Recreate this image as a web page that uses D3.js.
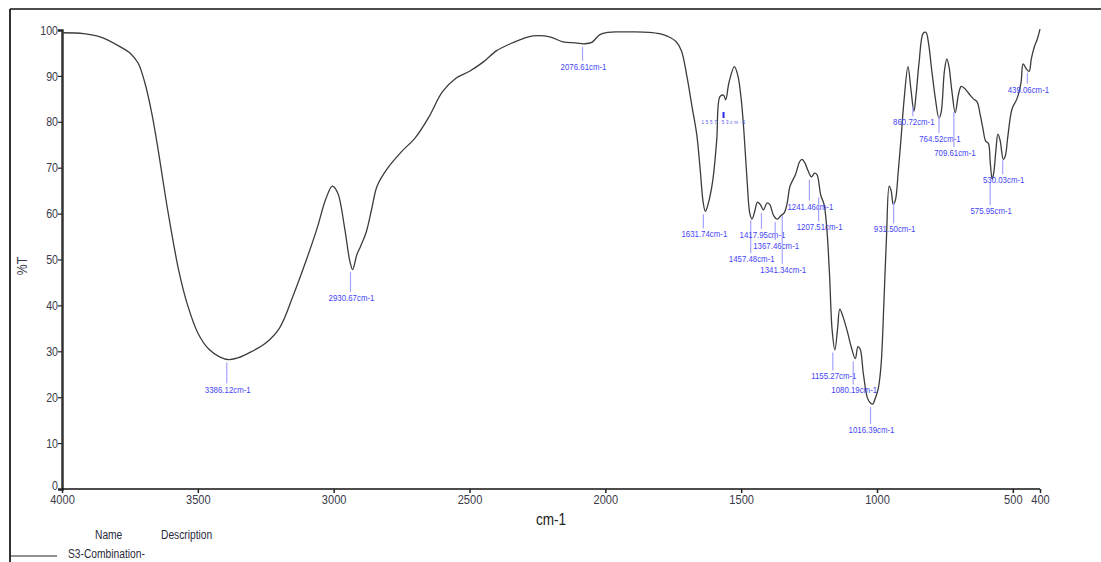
<!DOCTYPE html>
<html>
<head>
<meta charset="utf-8">
<script src="https://cdn.jsdelivr.net/npm/d3@7"></script>
<style>
  html, body { margin: 0; padding: 0; background: #fff; }
  svg { display: block; }
</style>
</head>
<body>
<svg id="chart" width="1101" height="562"></svg>
<script>
// ---------------- data ----------------
const wavenumbers = [
  4000, 3920, 3860, 3790, 3750, 3720, 3695, 3670, 3645, 3620, 3600, 3570, 3540, 3500, 3460, 3420, 3386, 3350, 3300, 3250,
  3200, 3150, 3100, 3060, 3030, 3005, 2985, 2960, 2940, 2930, 2915, 2900, 2880, 2860, 2840, 2800, 2750, 2700, 2650, 2600,
  2550, 2500, 2450, 2400, 2350, 2300, 2266, 2204, 2156, 2110, 2076, 2050, 2020, 1990, 1950, 1900, 1840, 1800, 1770, 1740,
  1720, 1700, 1680, 1663, 1650, 1640, 1632, 1622, 1605, 1590, 1578, 1565, 1557, 1545, 1525, 1512, 1500, 1490, 1478, 1468,
  1460, 1450, 1440, 1430, 1418, 1405, 1395, 1380, 1367, 1355, 1341, 1330, 1320, 1300, 1285, 1276, 1265, 1255, 1241, 1230,
  1221, 1207, 1195, 1185, 1175, 1165, 1155, 1145, 1137, 1125, 1110, 1095, 1080, 1070, 1062, 1050, 1035, 1025, 1016, 1005,
  995, 985, 975, 965, 955, 948, 940, 932, 922, 912, 900, 886, 875, 864, 856, 845, 830, 820, 810, 800,
  785, 772, 764, 752, 743, 735, 725, 712, 700, 690, 678, 660, 645, 632, 620, 610, 600, 590, 583, 576,
  570, 562, 555, 547, 535, 528, 518, 503, 485, 470, 462, 450, 440, 432, 420, 410, 400
];
const transmittance = [
  99.4, 99.2, 98.5, 96.5, 95.0, 92.8, 88.5, 82.0, 73.5, 64.0, 57.0, 47.5, 40.5, 34.0, 30.5, 28.8, 28.2, 28.6, 30.0, 31.8,
  35.0, 42.0, 50.0, 57.0, 63.0, 66.0, 64.5, 57.0, 49.5, 47.8, 51.0, 53.0, 56.0, 61.0, 66.0, 70.0, 73.5, 76.5, 81.0, 86.5,
  89.5, 91.0, 93.0, 95.5, 97.0, 98.2, 98.7, 98.5, 97.4, 97.2, 97.0, 97.3, 99.0, 99.5, 99.6, 99.6, 99.5, 99.2, 98.6, 97.5,
  95.5, 90.0, 83.0, 77.0, 69.0, 62.5, 60.5, 62.0, 67.0, 76.0, 85.5, 85.8, 84.8, 88.5, 92.0, 90.0, 85.0, 78.0, 67.0, 60.0,
  58.8, 60.5, 62.5, 62.0, 60.8, 62.3, 62.0, 59.5, 58.8, 59.5, 60.2, 62.5, 66.0, 68.5, 71.3, 71.8, 71.0, 69.5, 68.0, 68.8,
  68.5, 64.0, 62.0, 57.0, 47.0, 34.5, 30.3, 35.0, 39.2, 37.5, 34.5, 31.0, 28.4, 31.0, 30.5, 25.0, 19.8, 18.8, 18.5, 20.0,
  22.0, 27.0, 40.0, 55.0, 66.0, 65.0, 62.0, 63.0, 69.0, 76.0, 85.0, 92.0, 87.0, 82.3, 86.0, 93.0, 99.3, 99.5, 97.0, 92.0,
  85.0, 80.8, 82.0, 91.0, 93.7, 92.0, 87.0, 82.0, 86.0, 87.7, 87.3, 86.0, 85.0, 84.4, 81.5, 78.5, 75.8, 75.3, 71.0, 67.5,
  69.0, 74.0, 77.3, 76.0, 71.8, 72.5, 77.0, 82.8, 85.0, 88.5, 92.6, 91.5, 91.0, 93.7, 96.5, 98.0, 100.2
];

const peakWavenumbers = [3386.12, 2930.67, 2076.61, 1631.74, 1457.48, 1417.95, 1367.46, 1341.34, 1241.46, 1207.51,
                         1155.27, 1080.19, 1016.39, 931.50, 860.72, 764.52, 709.61, 575.95, 530.03, 439.06];
const peakLabels = ["3386.12cm-1", "2930.67cm-1", "2076.61cm-1", "1631.74cm-1", "1457.48cm-1", "1417.95cm-1",
                    "1367.46cm-1", "1341.34cm-1", "1241.46cm-1", "1207.51cm-1", "1155.27cm-1", "1080.19cm-1",
                    "1016.39cm-1", "931.50cm-1", "860.72cm-1", "764.52cm-1", "709.61cm-1", "575.95cm-1",
                    "530.03cm-1", "439.06cm-1"];
const squashedPeak = 1557.53;
const squashedLabel = "1557.53cm-1";

const xTickValues = [4000, 3500, 3000, 2500, 2000, 1500, 1000, 500, 400];
const yTickValues = [0, 10, 20, 30, 40, 50, 60, 70, 80, 90, 100];

const xTitle = "cm-1";
const yTitle = "%T";
const legendHeaders = ["Name", "Description"];
const legendName = "S3-Combination-";

// ---------------- layout (pixels) ----------------
const labelDrop = [33, 32, 26, 26, 45, 28, 30, 60, 33, 36, 30, 35, 29, 34, 21, 29, 47, 35, 26, 23];

const svg = d3.select("#chart");
const plot = { left: 62, right: 1040, top: 30, bottom: 489 };
const FONT = "'Liberation Sans', Arial, sans-serif";
const NARROW = 0.82;

const x = d3.scaleLinear().domain([4000, 400]).range([plot.left, plot.right]);
const y = d3.scaleLinear().domain([0, 100]).range([plot.bottom, plot.top]);

function narrowText(parent, px, py, str, size, anchor, fill, sx) {
  const g = parent.append("g").attr("transform", `translate(${px},${py})`);
  return g.append("text").attr("transform", `scale(${sx || NARROW},1)`)
    .attr("text-anchor", anchor).attr("font-family", FONT).attr("font-size", size)
    .attr("fill", fill).text(str);
}

// outer frame
svg.append("line").attr("x1", 10).attr("x2", 10).attr("y1", 9).attr("y2", 562)
  .attr("stroke", "#333").attr("stroke-width", 2);
svg.append("line").attr("x1", 10).attr("x2", 1101).attr("y1", 9).attr("y2", 9)
  .attr("stroke", "#111").attr("stroke-width", 1.5);

// axes
const yAxis = d3.axisLeft(y).tickValues(yTickValues).tickSize(4).tickPadding(1).tickFormat(d3.format("d"));
const gy = svg.append("g").attr("transform", `translate(${plot.left},0)`).call(yAxis);
gy.select(".domain").attr("stroke", "#333").attr("stroke-width", 2.5);
gy.selectAll(".tick line").attr("stroke", "#222").attr("stroke-width", 1.2);
gy.selectAll(".tick text").attr("font-family", FONT).attr("font-size", 13).attr("fill", "#3a3a4a")
  .attr("x", -4 / NARROW).attr("transform", `scale(${NARROW},1)`)
  .attr("y", d => d === 0 ? -4 : 0);

const xAxis = d3.axisBottom(x).tickValues(xTickValues).tickSize(4).tickPadding(1).tickFormat(d3.format("d"));
const gx = svg.append("g").attr("transform", `translate(0,${plot.bottom})`).call(xAxis);
gx.select(".domain").attr("stroke", "#111").attr("stroke-width", 1.5).attr("d", `M${plot.left},0H${plot.right}`);
gx.selectAll(".tick line").attr("stroke", "#222").attr("stroke-width", 1.5);
gx.selectAll(".tick text").attr("font-family", FONT).attr("font-size", 13.5).attr("fill", "#3a3a4a")
  .attr("transform", `scale(${NARROW},1)`);

// axis titles
narrowText(svg, 551, 525, xTitle, 16, "middle", "#222", 0.85);
{
  const g = svg.append("g").attr("transform", "translate(27,266) rotate(-90)");
  g.append("text").attr("transform", `scale(${NARROW},1)`).attr("text-anchor", "middle")
    .attr("font-family", FONT).attr("font-size", 15).attr("fill", "#3a3a4a").text(yTitle);
}

// spectrum line
const pts = wavenumbers.map((w, i) => [w, transmittance[i]]);
const line = d3.line().x(d => x(d[0])).y(d => y(d[1])).curve(d3.curveCatmullRom.alpha(0.5));
svg.append("path").datum(pts).attr("d", line).attr("fill", "none")
  .attr("stroke", "#3c3c3c").attr("stroke-width", 1.3);

// interpolate T at a wavenumber from the data
function tAt(w) {
  for (let i = 0; i < wavenumbers.length - 1; i++) {
    const a = wavenumbers[i], b = wavenumbers[i + 1];
    if (w <= a && w >= b) {
      const f = (a - w) / (a - b);
      return transmittance[i] + f * (transmittance[i + 1] - transmittance[i]);
    }
  }
  return transmittance[transmittance.length - 1];
}

// peak labels
const lab = svg.append("g");
peakWavenumbers.forEach((w, i) => {
  const px = x(w) - 2;
  const cy = y(tAt(w));
  const base = cy + labelDrop[i];
  lab.append("line").attr("x1", px).attr("x2", px).attr("y1", cy + 3).attr("y2", base - 9)
    .attr("stroke", "#a4a4ff").attr("stroke-width", 1.2);
  narrowText(lab, px + 1, base, peakLabels[i], 9.6, "middle", "#4545f5");
});

// squashed label near 1557
{
  const px = x(squashedPeak) - 2;
  lab.append("line").attr("x1", px).attr("x2", px).attr("y1", 112).attr("y2", 118)
    .attr("stroke", "#2a2af0").attr("stroke-width", 2);
  lab.append("text").attr("x", px).attr("y", 124).attr("text-anchor", "middle")
    .attr("font-family", FONT).attr("font-size", 4.5).attr("fill", "#5050f0")
    .attr("textLength", 44).attr("lengthAdjust", "spacing").text(squashedLabel);
}

// legend area
narrowText(svg, 95, 539, legendHeaders[0], 12.5, "start", "#2a2a3a");
narrowText(svg, 161, 539, legendHeaders[1], 12.5, "start", "#2a2a3a");
svg.append("line").attr("x1", 10).attr("x2", 57).attr("y1", 556).attr("y2", 556)
  .attr("stroke", "#222").attr("stroke-width", 1.2);
narrowText(svg, 68, 558, legendName, 12.5, "start", "#2a2a3a");
</script>
</body>
</html>
